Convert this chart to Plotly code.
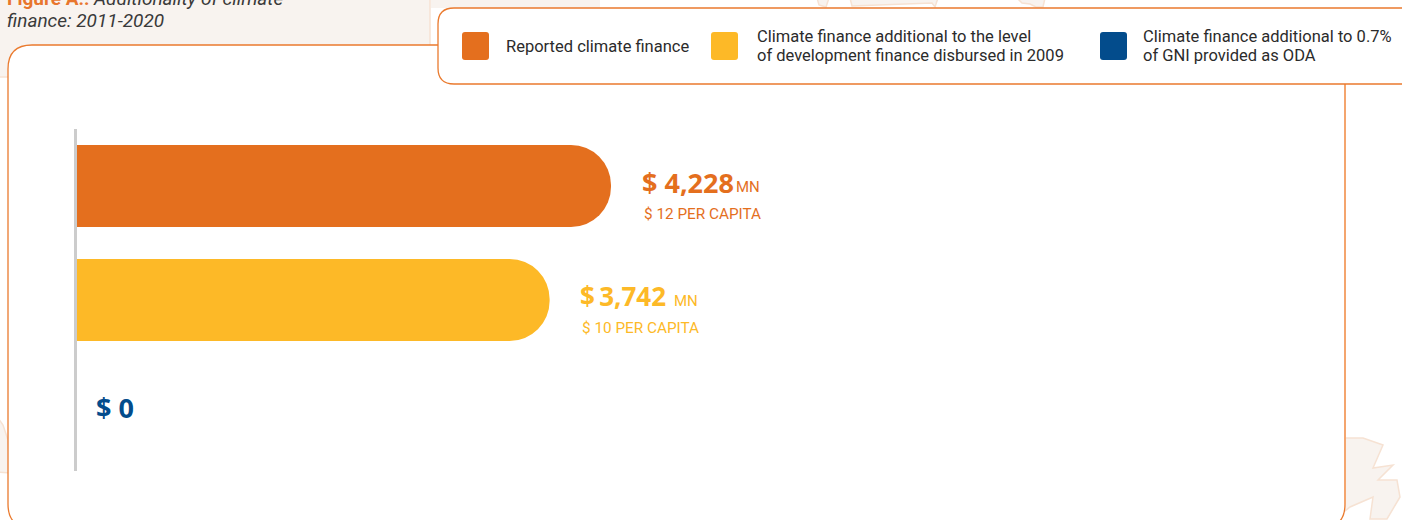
import plotly.graph_objects as go

categories = ["Reported climate finance", "Climate finance additional to the level of development finance disbursed in 2009", "Climate finance additional to 0.7% of GNI provided as ODA"]
values = [4228, 3742, 0]
per_capita = ["$ 12 PER CAPITA", "$ 10 PER CAPITA", ""]
value_labels = ["$ 4,228", "$\u20093,742", "$ 0"]
colors = ["#E46F1E", "#FDB927", "#034C8C"]
legend_labels = [["Reported climate finance"],
                 ["Climate finance additional to the level", "of development finance disbursed in 2009"],
                 ["Climate finance additional to 0.7%", "of GNI provided as ODA"]]

W, H = 1402, 520
ORANGE = "#EA7A2E"
BEIGE = "#F8F3EF"
MAPLINE = "#F6E2D3"
NARROW = "Roboto, sans-serif"
BOLD = "Noto Sans, sans-serif"
L, PW = 77, 1249

fx = lambda v: (v - L) / PW
fy = lambda v: (471 - v) / 342

fig = go.Figure(go.Bar(
    y=categories, x=values, orientation="h", marker=dict(color=colors, line_width=0),
    hoverinfo="skip", cliponaxis=False))

shapes, ann = [], []

def rect(x0, y0, x1, y1, **k):
    shapes.append(dict(type="rect", xref="paper", yref="paper", x0=fx(x0), x1=fx(x1),
                       y0=fy(y1), y1=fy(y0), layer="below", **k))

def rounded(x0, y0, x1, y1, r, **k):
    d = (f"M{fx(x0+r)},{fy(y0)} L{fx(x1-r)},{fy(y0)} Q{fx(x1)},{fy(y0)} {fx(x1)},{fy(y0+r)} "
         f"L{fx(x1)},{fy(y1-r)} Q{fx(x1)},{fy(y1)} {fx(x1-r)},{fy(y1)} "
         f"L{fx(x0+r)},{fy(y1)} Q{fx(x0)},{fy(y1)} {fx(x0)},{fy(y1-r)} "
         f"L{fx(x0)},{fy(y0+r)} Q{fx(x0)},{fy(y0)} {fx(x0+r)},{fy(y0)} Z")
    shapes.append(dict(type="path", xref="paper", yref="paper", path=d, layer="below", **k))

def poly(pts, **k):
    d = "M" + " L".join(f"{fx(x)},{fy(y)}" for x, y in pts) + " Z"
    shapes.append(dict(type="path", xref="paper", yref="paper", path=d, layer="below", **k))

def text(x, y, s, size, color, family=NARROW):
    ann.append(dict(xref="paper", yref="paper", x=fx(x), y=fy(y), text=s, showarrow=False,
                    xanchor="left", yanchor="middle", align="left", xshift=0,
                    font=dict(size=size, color=color, family=family), borderpad=0))

# decorative page background: beige title block and map fragments
rect(-2, -2, 430, 77, fillcolor=BEIGE, line=dict(color=MAPLINE, width=1.5))
rect(431, -2, 600, 8, fillcolor=BEIGE, line_width=0)
map_style = dict(fillcolor=BEIGE, line=dict(color=MAPLINE, width=1.5))
poly([(1340, 438), (1363, 438), (1383, 445), (1373, 468), (1393, 465), (1378, 480), (1397, 480),
      (1400, 497), (1387, 519), (1370, 519), (1373, 497), (1350, 507), (1340, 515)], **map_style)
poly([(-2, 418), (3, 425), (8, 440), (10, 473), (-2, 472)], **map_style)
poly([(817, -2), (829, -2), (826, 7), (819, 5)], **map_style)
poly([(850, -2), (938, -2), (935, 7), (932, 3), (852, 6)], **map_style)
poly([(1017, -2), (1045, -2), (1043, 7), (1036, 7), (1030, 4), (1022, 3)], **map_style)

# white chart panel and legend box
rounded(8, 45, 1345, 528, 24, fillcolor="white", line=dict(color=ORANGE, width=1.3))
shapes.append(dict(type="line", xref="paper", yref="paper", x0=fx(1345), x1=fx(1345), y0=fy(84), y1=fy(504),
                   line=dict(color="#F4A56E", width=2), layer="below"))
rounded(438, 8, 1440, 84, 16, fillcolor="white", line=dict(color=ORANGE, width=1.3))

# legend
for x0, c in zip([462, 711, 1100], colors):
    rounded(x0, 32, x0 + 27, 60, 3, fillcolor=c, line_width=0)
text(505, 46, legend_labels[0][0], 16.5, "#2B2B2B")
for x, lines in zip([756, 1142], legend_labels[1:]):
    text(x, 36, lines[0], 16.5, "#2B2B2B")
    text(x, 55, lines[1], 16.5, "#2B2B2B")

# title
text(6, -2, "<b style='color:#E8762D'>Figure A.:</b> <i>Additionality of climate</i>", 19, "#3A3A3A")
text(6, 20, "<i>finance: 2011-2020</i>", 19, "#3A3A3A")

# value labels
text(641, 182, f"<b>{value_labels[0]}</b>", 27, colors[0], BOLD)
text(735, 187, "MN", 15, colors[0])
text(643, 214, per_capita[0], 15.3, colors[0])
text(579, 296, f"<b>{value_labels[1]}</b>", 26, colors[1], BOLD)
text(673, 301, "MN", 15, colors[1])
text(581, 328, per_capita[1], 15.3, colors[1])
text(95, 407, f"<b>{value_labels[2]}</b>", 27, colors[2], BOLD)

fig.update_layout(
    width=W, height=H, autosize=False, margin=dict(l=L, r=W - L - PW, t=129, b=49),
    paper_bgcolor="white", plot_bgcolor="rgba(0,0,0,0)",
    barmode="overlay", bargap=0.28, barcornerradius=40, showlegend=False,
    shapes=shapes, annotations=ann,
    xaxis=dict(range=[0, PW / ((611 - L) / 4228)], visible=False, fixedrange=True),
    yaxis=dict(autorange="reversed", showticklabels=False, ticks="", showgrid=False, zeroline=False,
               showline=True, linecolor="#CCCCCC", linewidth=3, fixedrange=True, type="category",
               categoryorder="array", categoryarray=categories),
)
fig.write_html("out.html", config=dict(displayModeBar=False),
               post_script="document.body.style.margin='0';document.body.style.overflow='hidden';")
